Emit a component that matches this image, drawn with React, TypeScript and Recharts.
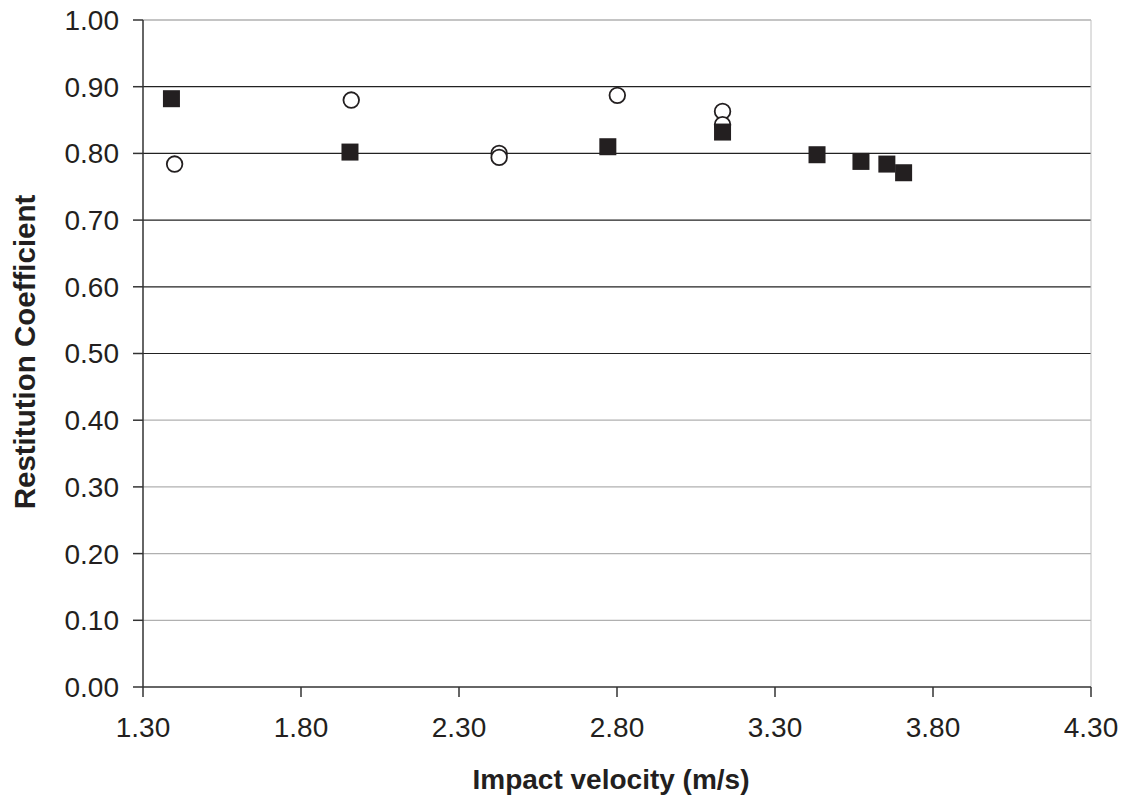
import React from 'react';
import {
  ScatterChart,
  Scatter,
  XAxis,
  YAxis,
  ReferenceLine,
} from 'recharts';

// series A: filled squares
const squareVelocity = [1.39, 1.955, 2.771, 3.134, 3.433, 3.572, 3.654, 3.707];
const squareCoef = [0.882, 0.802, 0.81, 0.832, 0.798, 0.788, 0.784, 0.771];

// series B: open circles
const circleVelocity = [1.4, 1.959, 2.427, 2.427, 2.801, 3.134, 3.134];
const circleCoef = [0.784, 0.88, 0.8, 0.794, 0.887, 0.863, 0.843];

const xTicks = [1.3, 1.8, 2.3, 2.8, 3.3, 3.8, 4.3];
const yTicks = [0, 0.1, 0.2, 0.3, 0.4, 0.5, 0.6, 0.7, 0.8, 0.9, 1.0];

const squares = squareVelocity.map((v, i) => ({ x: v, y: squareCoef[i] }));
const circles = circleVelocity.map((v, i) => ({ x: v, y: circleCoef[i] }));

const ink = '#231f20';
const font = '"Liberation Sans", Arial, sans-serif';

const SquareDot = (props: any) => {
  const { cx, cy } = props;
  const s = 17;
  return <rect x={cx - s / 2} y={cy - s / 2} width={s} height={s} fill={ink} />;
};

const CircleDot = (props: any) => {
  const { cx, cy } = props;
  return <circle cx={cx} cy={cy} r={7.8} fill="#fff" stroke={ink} strokeWidth={1.8} />;
};

// darker lines in the upper half, light ones below
const gridStroke = (v: number) => {
  if (v >= 0.95) return '#8a8a8a';
  if (v >= 0.45) return '#222';
  return '#b0b0b0';
};

export default function App() {
  return (
    <div style={{ position: 'absolute', left: 0, top: 0, width: 1125, height: 796, background: '#fff' }}>
      <ScatterChart
        width={1125}
        height={796}
        margin={{ top: 20, right: 34, left: 0, bottom: 0 }}
        style={{ fontFamily: font }}
      >
        {yTicks
          .filter((t) => t > 0)
          .map((t) => (
            <ReferenceLine key={t} y={t} stroke={gridStroke(t)} strokeWidth={1.2} ifOverflow="extendDomain" />
          ))}
        <ReferenceLine x={4.3} stroke="#c0c0c0" strokeWidth={1} />
        <XAxis
          type="number"
          dataKey="x"
          domain={[1.3, 4.3]}
          ticks={xTicks}
          tickFormatter={(v: number) => v.toFixed(2)}
          height={109}
          tickSize={10}
          tickMargin={20}
          axisLine={{ stroke: '#333', strokeWidth: 1.5 }}
          tickLine={{ stroke: '#333', strokeWidth: 1.5 }}
          tick={{ fontSize: 28, fill: ink, fontFamily: font }}
          allowDataOverflow
          label={{
            content: () => (
              <text x={611} y={789} textAnchor="middle" fontSize={28} fontWeight="bold" fill={ink} fontFamily={font}>
                Impact velocity (m/s)
              </text>
            ),
          }}
        />
        <YAxis
          type="number"
          dataKey="y"
          domain={[0, 1]}
          ticks={yTicks}
          tickFormatter={(v: number) => v.toFixed(2)}
          width={143}
          tickSize={10}
          tickMargin={14}
          axisLine={{ stroke: '#333', strokeWidth: 1.5 }}
          tickLine={{ stroke: '#333', strokeWidth: 1.5 }}
          tick={{ fontSize: 28, fill: ink, fontFamily: font }}
          allowDataOverflow
          label={{
            content: () => (
              <text
                x={35}
                y={352}
                textAnchor="middle"
                transform="rotate(-90 35 352)"
                fontSize={29.5}
                fontWeight="bold"
                fill={ink}
                fontFamily={font}
              >
                Restitution Coefficient
              </text>
            ),
          }}
        />
        <Scatter data={circles} shape={CircleDot} isAnimationActive={false} />
        <Scatter data={squares} shape={SquareDot} isAnimationActive={false} />
      </ScatterChart>
    </div>
  );
}
